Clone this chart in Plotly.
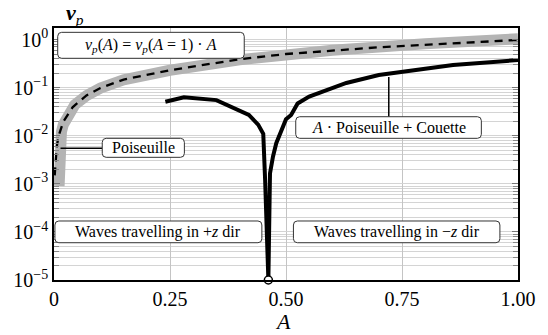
import plotly.graph_objects as go

# Phase velocity v_p versus amplitude A
# Poiseuille (thick grey band)
A_pois = [0.011, 0.0112, 0.0118, 0.013, 0.016, 0.02, 0.03, 0.045, 0.07, 0.1, 0.15, 0.25, 0.4, 0.6, 0.8, 1.0]
vp_pois = [0.0009, 0.0025, 0.005, 0.008, 0.012, 0.017, 0.028, 0.044, 0.068, 0.098, 0.145, 0.23, 0.38, 0.6, 0.82, 1.04]

# Linear scaling v_p(A) = v_p(A=1) * A (dashed)
A_lin = [0.0015, 0.003, 0.006, 0.01, 0.02, 0.04, 0.07, 0.1, 0.15, 0.25, 0.4, 0.5, 0.7, 1.0]
vp_lin = [0.0015, 0.003, 0.006, 0.0099, 0.0196, 0.039, 0.069, 0.098, 0.147, 0.23, 0.39, 0.5, 0.69, 0.98]

# A * Poiseuille + Couette (black)
A_pc = [0.24, 0.28, 0.35, 0.42, 0.44, 0.451, 0.455, 0.458, 0.462, 0.4655, 0.469, 0.472,
        0.479, 0.50, 0.511, 0.525, 0.55, 0.63, 0.70, 0.86, 1.00]
vp_pc = [0.051, 0.063, 0.055, 0.027, 0.017, 0.011, 0.0012, 0.00007, 0.00001, 0.00165, 0.0027, 0.0037,
         0.007, 0.022, 0.027, 0.047, 0.065, 0.125, 0.183, 0.295, 0.375]

# Direction reversal point
A_zero = [0.462]
vp_zero = [0.00001]

y_decades = [-5, -4, -3, -2, -1, 0]
y_ticktext = ["10<sup>−5</sup>", "10<sup>−4</sup>", "10<sup>−3</sup>",
              "10<sup>−2</sup>", "10<sup>−1</sup>", "10<sup>0</sup>"]
x_tickvals = [0, 0.25, 0.5, 0.75, 1.0]
x_ticktext = ["0", "0.25", "0.50", "0.75", "1.00"]

FONT = "Liberation Serif"
Y_LO, Y_HI = -5.0, 0.24
PLOT_W, PLOT_H = 475, 252


def py(lg):
    """log10 value -> paper y"""
    return (lg - Y_LO) / (Y_HI - Y_LO)


def rounded_box(a0, a1, lg0, lg1, r=4):
    x0, x1 = a0, a1
    y0, y1 = py(lg0), py(lg1)
    rx, ry = r / PLOT_W, r / PLOT_H
    return (f"M {x0+rx},{y0} L {x1-rx},{y0} Q {x1},{y0} {x1},{y0+ry} "
            f"L {x1},{y1-ry} Q {x1},{y1} {x1-rx},{y1} L {x0+rx},{y1} "
            f"Q {x0},{y1} {x0},{y1-ry} L {x0},{y0+ry} Q {x0},{y0} {x0+rx},{y0} Z")


fig = go.Figure()
fig.add_trace(go.Scatter(x=A_pois, y=vp_pois, mode="lines",
                         line=dict(color="#b4b4b4", width=11), hoverinfo="skip"))
fig.add_trace(go.Scatter(x=A_lin, y=vp_lin, mode="lines",
                         line=dict(color="black", width=2.3, dash="8px,6px")))
fig.add_trace(go.Scatter(x=A_pc, y=vp_pc, mode="lines",
                         line=dict(color="black", width=4)))
fig.add_trace(go.Scatter(x=A_zero, y=vp_zero, mode="markers", cliponaxis=False,
                         marker=dict(color="white", size=8, line=dict(color="black", width=1.5))))

# Labelled boxes: (A0, A1, log0, log1, text)
boxes = [
    (0.008, 0.41, -0.39, 0.15,
     "<i>v</i><sub><i>p</i></sub>(<i>A</i>) = <i>v</i><sub><i>p</i></sub>(<i>A</i> = 1) · <i>A</i>"),
    (0.104, 0.281, -2.449, -2.054, "Poiseuille"),
    (0.521, 0.921, -2.054, -1.605, "<i>A</i> · Poiseuille + Couette"),
    (0.002, 0.448, -4.225, -3.773, "Waves travelling in +<i>z</i> dir"),
    (0.516, 0.961, -4.225, -3.773, "Waves travelling in −<i>z</i> dir"),
]

shapes = [
    # leader lines to the curves
    dict(type="line", xref="x", yref="paper", x0=0.014, x1=0.104, y0=py(-2.262), y1=py(-2.262),
         line=dict(color="black", width=1.5), layer="above"),
    dict(type="line", xref="x", yref="paper", x0=0.7215, x1=0.7215, y0=py(-1.605), y1=py(-0.78),
         line=dict(color="black", width=1.5), layer="above"),
]
annotations = []
for a0, a1, l0, l1, txt in boxes:
    shapes.append(dict(type="path", xref="paper", yref="paper", path=rounded_box(a0, a1, l0, l1),
                       fillcolor="white", line=dict(color="#333333", width=1), layer="above"))
    annotations.append(dict(x=(a0 + a1) / 2, y=py((l0 + l1) / 2), xref="paper", yref="paper",
                            text=txt, showarrow=False, xanchor="center", yanchor="middle",
                            font=dict(family=FONT, size=16, color="black")))

# axis labels
annotations.append(dict(x=0.045, y=1.0, xref="paper", yref="paper", yanchor="bottom",
                        xanchor="center", yshift=-2,
                        text="<b><i>v</i></b><sub><i>p</i></sub>", showarrow=False,
                        font=dict(family=FONT, size=22, color="black")))
annotations.append(dict(x=0.493, y=-0.165, xref="paper", yref="paper", yanchor="middle",
                        xanchor="center", text="<i>A</i>", showarrow=False,
                        font=dict(family=FONT, size=22, color="black")))

minor_vals = [k * 10.0 ** e for e in range(-5, 1) for k in range(2, 10)]

fig.update_layout(
    width=548, height=335,
    margin=dict(l=54, r=19, t=28, b=55),
    paper_bgcolor="white", plot_bgcolor="white",
    showlegend=False,
    shapes=shapes, annotations=annotations,
    font=dict(family=FONT, size=20, color="black"),
)
fig.update_xaxes(range=[0, 1], tickvals=x_tickvals, ticktext=x_ticktext,
                 showgrid=True, gridcolor="#c4c4c4", gridwidth=1, zeroline=False,
                 showline=True, linecolor="black", linewidth=1.5, mirror=True,
                 ticks="", tickfont=dict(family=FONT, size=20, color="black"))
fig.update_yaxes(type="log", range=[Y_LO, Y_HI],
                 tickvals=[10.0 ** d for d in y_decades], ticktext=y_ticktext,
                 showgrid=True, gridcolor="#d4d4d4", gridwidth=1, zeroline=False,
                 showline=True, linecolor="black", linewidth=1.5, mirror="allticks",
                 ticks="inside", ticklen=6, tickcolor="#777777",
                 tickfont=dict(family=FONT, size=20, color="black"),
                 minor=dict(tickmode="array", tickvals=minor_vals, ticks="inside", ticklen=5,
                            tickcolor="#888888", showgrid=True, gridcolor="#d4d4d4", gridwidth=1))

fig.write_html("out.html")
